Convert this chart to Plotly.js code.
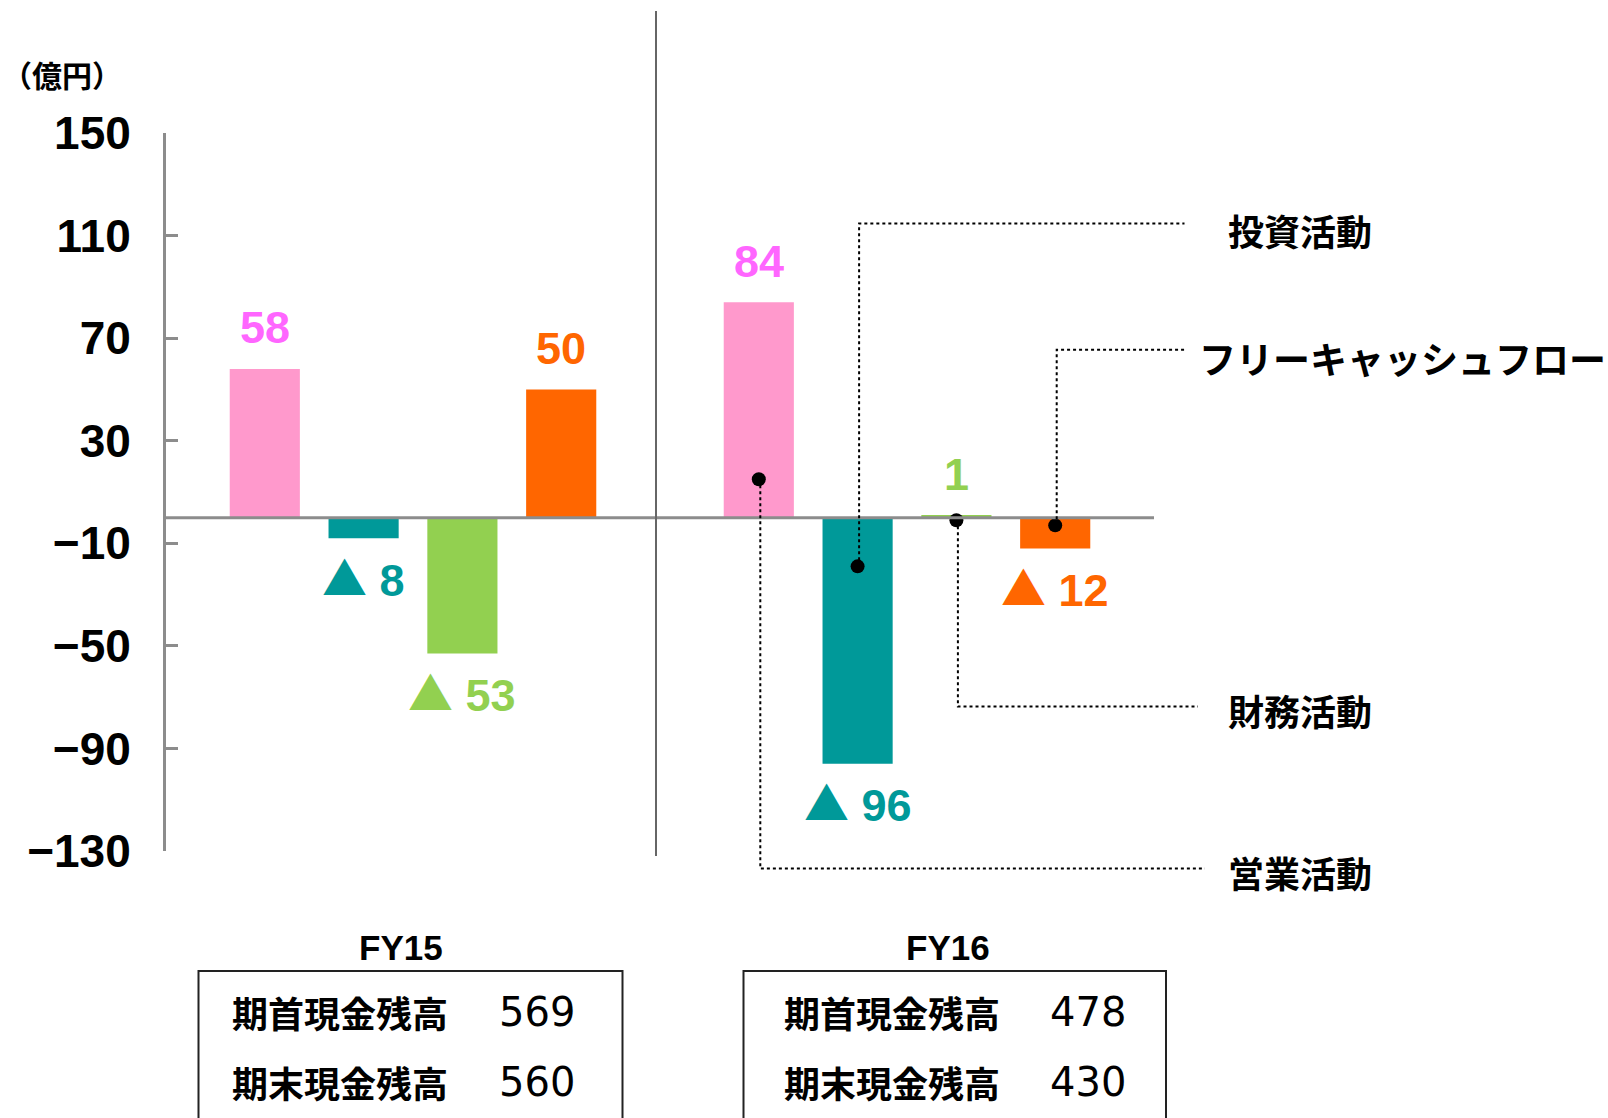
<!DOCTYPE html>
<html>
<head>
<meta charset="utf-8">
<script src="https://cdn.plot.ly/plotly-3.0.1.min.js"></script>
<style>
  html, body { margin: 0; padding: 0; background: #fff; }
  #chart { width: 1608px; height: 1118px; }
</style>
</head>
<body>
<div id="chart"></div>
<script>
// ---------------- data ----------------
const years = ['FY15', 'FY16'];
const flowTypes = ['営業活動', '投資活動', '財務活動', 'フリーキャッシュフロー'];
const fy15Flows = [58, -8, -53, 50];
const fy16Flows = [84, -96, 1, -12];
const openingCash = [569, 478];
const closingCash = [560, 430];
const tableRowLabels = ['期首現金残高', '期末現金残高'];
const yTickVals = [-130, -90, -50, -10, 30, 70, 110, 150];
const unitLabel = '（億円）';
const leaderDotValues = [15, -19, -1, -3];   // marker points on the FY16 bars

// ---------------- styles ----------------
const barColors = ['#FF99CC', '#009999', '#92D050', '#FF6600'];
const labelColors = ['#FF66FF', '#009999', '#92D050', '#FF6600'];
const axisGrey = '#8C8C8C';

// ---------------- layout geometry (pixels) ----------------
const W = 1608, H = 1118;
const L = 166, R = 1154, T = 133, B = 851;
const px = x => (x - L) / (R - L);
const py = y => (B - y) / (B - T);
const groupStart = [0, 5];
const slot = (g, i) => groupStart[g] + i;

const leaderBendPx = [868.6, 223.6, 706.6, 349.7];
const leaderEndPx = [1205, 1184.5, 1198, 1186.6];
const calloutLeftPx = [1226, 1226, 1226, 1197];
const calloutMidPx = [872, 230, 710, 358];
const calloutSize = [36, 36, 36, 37];

const allFlows = [fy15Flows, fy16Flows];

// ---------------- traces ----------------
const traces = flowTypes.map((name, i) => ({
  type: 'bar',
  name: name,
  x: years.map((_, g) => slot(g, i)),
  y: allFlows.map(f => f[i]),
  width: 0.71,
  marker: { color: barColors[i], line: { width: 0 } },
  hoverinfo: 'skip',
  showlegend: false
}));

traces.push({
  type: 'scatter',
  mode: 'markers',
  x: flowTypes.map((_, i) => slot(1, i)),
  y: leaderDotValues,
  marker: { color: '#000', size: 14 },
  cliponaxis: false,
  hoverinfo: 'skip',
  showlegend: false
});

// ---------------- annotations ----------------
const annotations = [];
const numFont = 'Liberation Sans, Arial, sans-serif';
const jpFont = 'Noto Sans CJK JP, sans-serif';
const tri = "<span style='font-family:Noto Sans CJK JP;font-weight:normal'>▲</span>";

allFlows.forEach((flows, g) => {
  flows.forEach((v, i) => {
    annotations.push({
      xref: 'x', yref: 'y', x: slot(g, i), y: v,
      text: v >= 0 ? String(v) : tri + ' ' + Math.abs(v),
      showarrow: false, xanchor: 'center', yanchor: 'middle',
      yshift: v >= 0 ? 41 : -38,
      font: { family: numFont, size: 45, color: labelColors[i], weight: 'bold' }
    });
  });
});

annotations.push({
  xref: 'paper', yref: 'paper', x: px(0), y: py(74),
  xanchor: 'left', yanchor: 'middle', showarrow: false,
  text: unitLabel,
  font: { family: jpFont, size: 30, color: '#000', weight: 'bold' }
});

flowTypes.forEach((name, i) => {
  annotations.push({
    xref: 'paper', yref: 'paper', x: px(calloutLeftPx[i]), y: py(calloutMidPx[i]),
    xanchor: 'left', yanchor: 'middle', showarrow: false,
    text: name,
    font: { family: jpFont, size: calloutSize[i], color: '#000', weight: 'bold' }
  });
});

// cash tables
const yearTitleX = [401, 948];
const rowLabelLeft = [230, 782];
const rowNumLeft = [497, 1048];
const rowMid = [1012, 1082];
years.forEach((yr, g) => {
  annotations.push({
    xref: 'paper', yref: 'paper', x: px(yearTitleX[g]), y: py(947),
    xanchor: 'center', yanchor: 'middle', showarrow: false,
    text: yr,
    font: { family: numFont, size: 35, color: '#000', weight: 'bold' }
  });
  const vals = [openingCash[g], closingCash[g]];
  tableRowLabels.forEach((lab, r) => {
    annotations.push({
      xref: 'paper', yref: 'paper', x: px(rowLabelLeft[g]), y: py(rowMid[r]),
      xanchor: 'left', yanchor: 'middle', showarrow: false,
      text: lab,
      font: { family: jpFont, size: 36, color: '#000', weight: 'bold' }
    });
    annotations.push({
      xref: 'paper', yref: 'paper', x: px(rowNumLeft[g]), y: py(rowMid[r]),
      xanchor: 'left', yanchor: 'middle', showarrow: false,
      text: String(vals[r]),
      font: { family: 'DejaVu Sans, sans-serif', size: 40, color: '#000', weight: 500 }
    });
  });
});

// ---------------- shapes ----------------
const shapes = [];
// zero line above bars
shapes.push({
  type: 'line', xref: 'paper', yref: 'y', x0: 0, x1: 1, y0: 0, y1: 0,
  line: { color: axisGrey, width: 3 }, layer: 'above'
});
// group separator
shapes.push({
  type: 'line', xref: 'paper', yref: 'paper', x0: px(656), x1: px(656), y0: py(11), y1: py(856),
  line: { color: '#666', width: 2 }, layer: 'above'
});
// leader lines
const yToPx = v => B - (v + 130) / 280 * (B - T);
const xToPx = x => L + (x + 1) / 10 * (R - L);
flowTypes.forEach((_, i) => {
  const dx = xToPx(slot(1, i)) + 1.5;
  const dy = yToPx(leaderDotValues[i]);
  shapes.push({
    type: 'path', xref: 'paper', yref: 'paper',
    path: `M ${px(dx)} ${py(dy)} L ${px(dx)} ${py(leaderBendPx[i])} L ${px(leaderEndPx[i])} ${py(leaderBendPx[i])}`,
    line: { color: '#000', width: 2, dash: 'dot' }, layer: 'above'
  });
});
// table boxes
const boxLeft = [198.5, 743.5], boxRight = [622.5, 1166];
years.forEach((_, g) => {
  shapes.push({
    type: 'rect', xref: 'paper', yref: 'paper',
    x0: px(boxLeft[g]), x1: px(boxRight[g]), y0: py(971), y1: py(1130),
    line: { color: '#222', width: 2 }, fillcolor: 'rgba(0,0,0,0)', layer: 'above'
  });
});

const layout = {
  width: W, height: H,
  margin: { l: L, r: W - R, t: T, b: H - B, pad: 0 },
  paper_bgcolor: '#fff', plot_bgcolor: '#fff',
  barmode: 'overlay',
  showlegend: false,
  xaxis: {
    range: [-1, 9], showgrid: false, zeroline: false, showline: false,
    showticklabels: false, ticks: '', fixedrange: true
  },
  yaxis: {
    range: [-130, 150], tickvals: yTickVals, ticktext: yTickVals.map(v => v < 0 ? '−' + Math.abs(v) : String(v)),
    showgrid: false, zeroline: false,
    showline: true, linecolor: axisGrey, linewidth: 3,
    ticks: 'inside', ticklen: 12, tickwidth: 3, tickcolor: axisGrey,
    ticklabelstandoff: 23,
    tickfont: { family: numFont, size: 46, color: '#000', weight: 'bold' },
    fixedrange: true
  },
  annotations: annotations,
  shapes: shapes
};

Plotly.newPlot('chart', traces, layout, { displayModeBar: false, staticPlot: true });
</script>
</body>
</html>
